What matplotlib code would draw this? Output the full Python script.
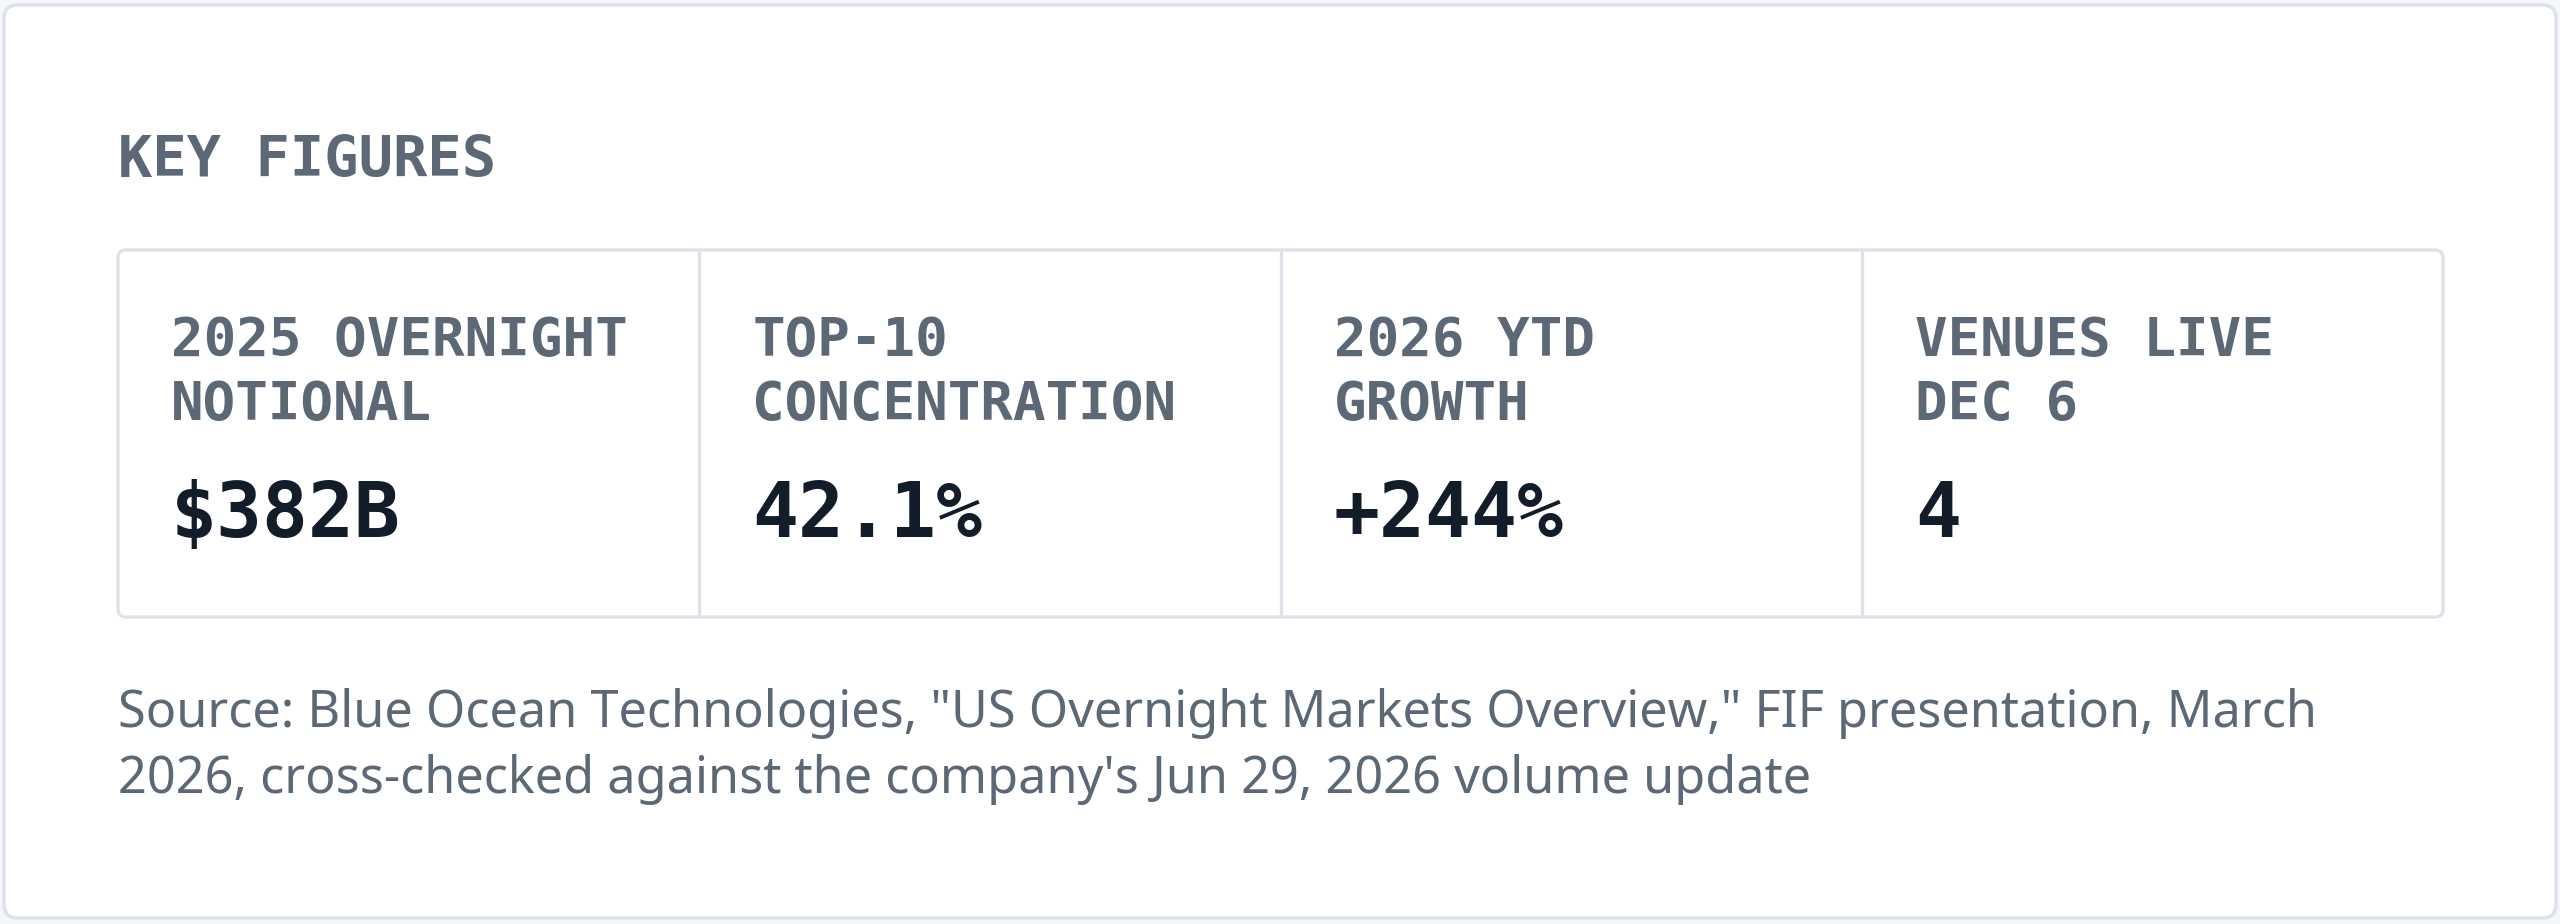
import matplotlib
matplotlib.use("Agg")
from matplotlib import pyplot as plt
from matplotlib.patches import FancyBboxPatch

# data
titulo = "KEY FIGURES"
etiquetas = ["2025 OVERNIGHT\nNOTIONAL", "TOP-10\nCONCENTRATION",
             "2026 YTD\nGROWTH", "VENUES LIVE\nDEC 6"]
valores = ["$382B", "42.1%", "+244%", "4"]
fuente = ["Source: Blue Ocean Technologies, \"US Overnight Markets Overview,\" FIF presentation, March",
          "2026, cross-checked against the company's Jun 29, 2026 volume update"]

W, H = 2560, 924
gris = "#5c6876"
oscuro = "#131d2a"
borde = "#dde2ea"

fig = plt.figure(figsize=(W/100, H/100), dpi=100, facecolor="#f4f6f9")
ax = fig.add_axes([0, 0, 1, 1])
ax.set_xlim(0, W)
ax.set_ylim(H, 0)
ax.axis("off")

# tarjeta exterior
ax.add_patch(FancyBboxPatch((4, 5), 2552, 913, boxstyle="round,pad=0,rounding_size=14",
                            fc="white", ec=borde, lw=2.4))

ax.text(118, 177, titulo, family="DejaVu Sans Mono", weight="bold", fontsize=41,
        color=gris, va="baseline", ha="left")

# tabla
x0, x1, y0, y1 = 118, 2443, 250, 617
ax.add_patch(FancyBboxPatch((x0, y0), x1-x0, y1-y0, boxstyle="round,pad=0,rounding_size=8",
                            fc="white", ec=borde, lw=2.4))
ancho = (x1-x0)/len(valores)
for i in range(1, len(valores)):
    ax.plot([x0+i*ancho]*2, [y0, y1], color=borde, lw=2.4, solid_capstyle="butt")

for i, (et, val) in enumerate(zip(etiquetas, valores)):
    xc = x0 + i*ancho + 53
    for j, linea in enumerate(et.split("\n")):
        ax.text(xc, 356 + j*64, linea, family="DejaVu Sans Mono", weight="bold",
                fontsize=39, color=gris, va="baseline", ha="left")
    ax.text(xc, 537, val, family="DejaVu Sans Mono", weight="bold", fontsize=55,
            color=oscuro, va="baseline", ha="left")

# fuente, ajustar tamaño al ancho
t1 = ax.text(118, 727, fuente[0], family="Noto Sans", fontsize=34, color=gris,
             va="baseline", ha="left")
fig.canvas.draw()
r = fig.canvas.get_renderer()
w = t1.get_window_extent(r).width
fs = 34 * 2201 / w
t1.set_fontsize(fs)
ax.text(118, 793, fuente[1], family="Noto Sans", fontsize=fs, color=gris,
        va="baseline", ha="left")

plt.savefig("out.png", dpi=100, facecolor=fig.get_facecolor())
